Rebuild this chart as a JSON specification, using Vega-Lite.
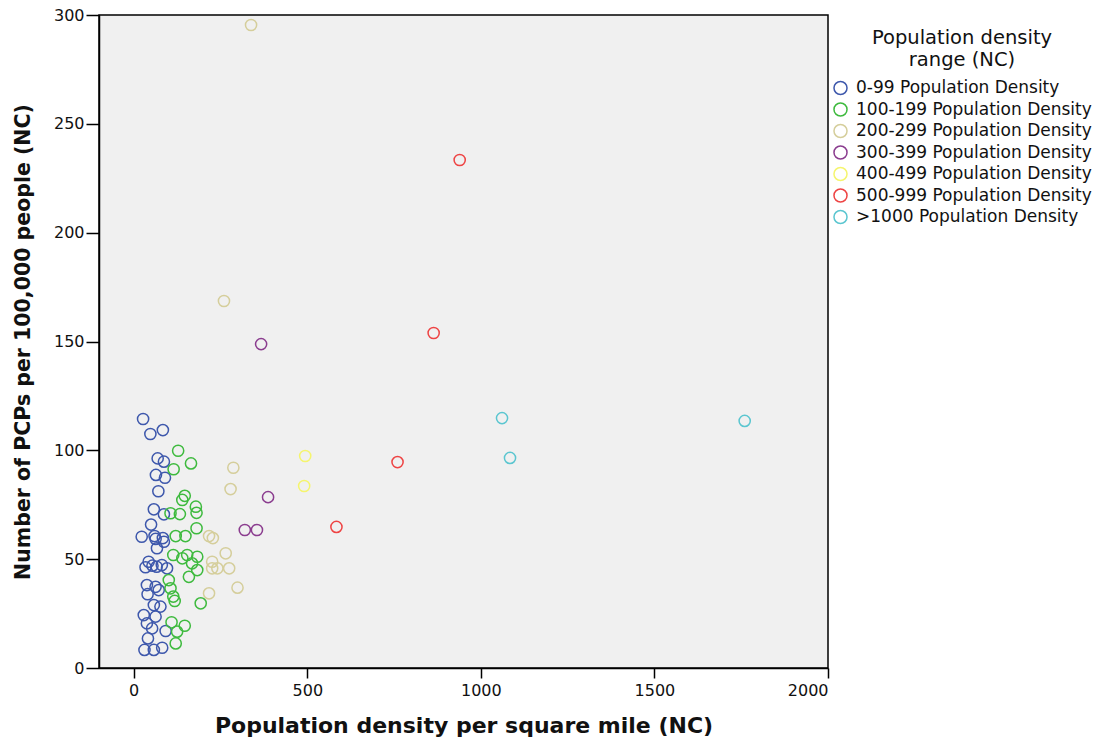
{
  "$schema": "https://vega.github.io/schema/vega-lite/v6.json",
  "autosize": {"type": "none"},
  "padding": {"left": 99, "top": 15, "right": 270, "bottom": 74},
  "width": 729,
  "height": 653,
  "background": "white",
  "config": {
    "font": "DejaVu Sans",
    "view": {"fill": "#F0F0F0", "stroke": "#000000", "strokeWidth": 1.5},
    "axis": {
      "labelFontSize": 16,
      "labelColor": "#111111",
      "titleFontWeight": "bold",
      "titleColor": "#111111",
      "domainColor": "#000000",
      "domainWidth": 1.5,
      "tickColor": "#000000",
      "tickWidth": 1.5,
      "grid": false,
      "format": "d"
    }
  },
  "data": {
    "values": [
      {"density": 27, "pcp": 114.4, "range": "0-99 Population Density"},
      {"density": 48, "pcp": 107.5, "range": "0-99 Population Density"},
      {"density": 84, "pcp": 109.3, "range": "0-99 Population Density"},
      {"density": 69, "pcp": 96.3, "range": "0-99 Population Density"},
      {"density": 87, "pcp": 94.8, "range": "0-99 Population Density"},
      {"density": 64, "pcp": 88.7, "range": "0-99 Population Density"},
      {"density": 90, "pcp": 87.4, "range": "0-99 Population Density"},
      {"density": 71, "pcp": 81.2, "range": "0-99 Population Density"},
      {"density": 58, "pcp": 72.9, "range": "0-99 Population Density"},
      {"density": 87, "pcp": 70.6, "range": "0-99 Population Density"},
      {"density": 50, "pcp": 65.9, "range": "0-99 Population Density"},
      {"density": 23, "pcp": 60.3, "range": "0-99 Population Density"},
      {"density": 60, "pcp": 60.6, "range": "0-99 Population Density"},
      {"density": 84, "pcp": 59.7, "range": "0-99 Population Density"},
      {"density": 63, "pcp": 59.3, "range": "0-99 Population Density"},
      {"density": 87, "pcp": 58.0, "range": "0-99 Population Density"},
      {"density": 67, "pcp": 55.0, "range": "0-99 Population Density"},
      {"density": 43, "pcp": 48.8, "range": "0-99 Population Density"},
      {"density": 66, "pcp": 46.5, "range": "0-99 Population Density"},
      {"density": 34, "pcp": 46.3, "range": "0-99 Population Density"},
      {"density": 96, "pcp": 45.8, "range": "0-99 Population Density"},
      {"density": 81, "pcp": 47.3, "range": "0-99 Population Density"},
      {"density": 54, "pcp": 47.0, "range": "0-99 Population Density"},
      {"density": 38, "pcp": 38.1, "range": "0-99 Population Density"},
      {"density": 63, "pcp": 37.3, "range": "0-99 Population Density"},
      {"density": 40, "pcp": 33.9, "range": "0-99 Population Density"},
      {"density": 72, "pcp": 35.8, "range": "0-99 Population Density"},
      {"density": 58, "pcp": 28.9, "range": "0-99 Population Density"},
      {"density": 77, "pcp": 28.2, "range": "0-99 Population Density"},
      {"density": 29, "pcp": 24.3, "range": "0-99 Population Density"},
      {"density": 63, "pcp": 23.6, "range": "0-99 Population Density"},
      {"density": 38, "pcp": 20.5, "range": "0-99 Population Density"},
      {"density": 53, "pcp": 18.2, "range": "0-99 Population Density"},
      {"density": 92, "pcp": 17.0, "range": "0-99 Population Density"},
      {"density": 41, "pcp": 13.6, "range": "0-99 Population Density"},
      {"density": 31, "pcp": 8.3, "range": "0-99 Population Density"},
      {"density": 58, "pcp": 8.3, "range": "0-99 Population Density"},
      {"density": 82, "pcp": 9.3, "range": "0-99 Population Density"},
      {"density": 128, "pcp": 99.8, "range": "100-199 Population Density"},
      {"density": 165, "pcp": 94.0, "range": "100-199 Population Density"},
      {"density": 115, "pcp": 91.3, "range": "100-199 Population Density"},
      {"density": 147, "pcp": 79.1, "range": "100-199 Population Density"},
      {"density": 140, "pcp": 77.2, "range": "100-199 Population Density"},
      {"density": 179, "pcp": 74.1, "range": "100-199 Population Density"},
      {"density": 181, "pcp": 71.3, "range": "100-199 Population Density"},
      {"density": 106, "pcp": 71.1, "range": "100-199 Population Density"},
      {"density": 133, "pcp": 70.7, "range": "100-199 Population Density"},
      {"density": 181, "pcp": 64.2, "range": "100-199 Population Density"},
      {"density": 121, "pcp": 60.6, "range": "100-199 Population Density"},
      {"density": 149, "pcp": 60.6, "range": "100-199 Population Density"},
      {"density": 114, "pcp": 51.9, "range": "100-199 Population Density"},
      {"density": 140, "pcp": 50.4, "range": "100-199 Population Density"},
      {"density": 154, "pcp": 51.9, "range": "100-199 Population Density"},
      {"density": 183, "pcp": 51.1, "range": "100-199 Population Density"},
      {"density": 168, "pcp": 48.1, "range": "100-199 Population Density"},
      {"density": 183, "pcp": 45.0, "range": "100-199 Population Density"},
      {"density": 159, "pcp": 41.9, "range": "100-199 Population Density"},
      {"density": 101, "pcp": 40.4, "range": "100-199 Population Density"},
      {"density": 106, "pcp": 36.6, "range": "100-199 Population Density"},
      {"density": 114, "pcp": 32.8, "range": "100-199 Population Density"},
      {"density": 118, "pcp": 30.8, "range": "100-199 Population Density"},
      {"density": 193, "pcp": 29.7, "range": "100-199 Population Density"},
      {"density": 109, "pcp": 21.0, "range": "100-199 Population Density"},
      {"density": 147, "pcp": 19.4, "range": "100-199 Population Density"},
      {"density": 125, "pcp": 16.7, "range": "100-199 Population Density"},
      {"density": 121, "pcp": 11.3, "range": "100-199 Population Density"},
      {"density": 338, "pcp": 295.4, "range": "200-299 Population Density"},
      {"density": 260, "pcp": 168.6, "range": "200-299 Population Density"},
      {"density": 287, "pcp": 92.0, "range": "200-299 Population Density"},
      {"density": 279, "pcp": 82.2, "range": "200-299 Population Density"},
      {"density": 217, "pcp": 60.6, "range": "200-299 Population Density"},
      {"density": 228, "pcp": 59.7, "range": "200-299 Population Density"},
      {"density": 265, "pcp": 52.7, "range": "200-299 Population Density"},
      {"density": 226, "pcp": 48.8, "range": "200-299 Population Density"},
      {"density": 226, "pcp": 45.8, "range": "200-299 Population Density"},
      {"density": 241, "pcp": 45.8, "range": "200-299 Population Density"},
      {"density": 275, "pcp": 45.8, "range": "200-299 Population Density"},
      {"density": 217, "pcp": 34.3, "range": "200-299 Population Density"},
      {"density": 299, "pcp": 36.9, "range": "200-299 Population Density"},
      {"density": 367, "pcp": 148.8, "range": "300-399 Population Density"},
      {"density": 387, "pcp": 78.5, "range": "300-399 Population Density"},
      {"density": 320, "pcp": 63.4, "range": "300-399 Population Density"},
      {"density": 355, "pcp": 63.4, "range": "300-399 Population Density"},
      {"density": 494, "pcp": 97.4, "range": "400-499 Population Density"},
      {"density": 491, "pcp": 83.6, "range": "400-499 Population Density"},
      {"density": 939, "pcp": 233.4, "range": "500-999 Population Density"},
      {"density": 864, "pcp": 153.9, "range": "500-999 Population Density"},
      {"density": 760, "pcp": 94.6, "range": "500-999 Population Density"},
      {"density": 584, "pcp": 64.8, "range": "500-999 Population Density"},
      {"density": 1061, "pcp": 114.8, "range": ">1000 Population Density"},
      {"density": 1084, "pcp": 96.5, "range": ">1000 Population Density"},
      {"density": 1760, "pcp": 113.5, "range": ">1000 Population Density"}
    ]
  },
  "mark": {"type": "point", "shape": "circle", "filled": false, "size": 125, "strokeWidth": 1.5, "opacity": 1},
  "encoding": {
    "x": {
      "field": "density",
      "type": "quantitative",
      "scale": {"domain": [-100, 2000], "nice": false, "zero": false},
      "axis": {
        "title": "Population density per square mile (NC)",
        "titleFontSize": 22,
        "values": [0, 500, 1000, 1500, 2000],
        "tickSize": 10,
        "labelPadding": 4,
        "titlePadding": 17
      }
    },
    "y": {
      "field": "pcp",
      "type": "quantitative",
      "scale": {"domain": [0, 300], "nice": false},
      "axis": {
        "title": "Number of PCPs per 100,000 people (NC)",
        "titleFontSize": 20.5,
        "values": [0, 50, 100, 150, 200, 250, 300],
        "tickSize": 13,
        "labelPadding": 2,
        "titlePadding": 20
      }
    },
    "color": {
      "field": "range",
      "type": "nominal",
      "title": ["Population density", "range (NC)"],
      "sort": [
        "0-99 Population Density",
        "100-199 Population Density",
        "200-299 Population Density",
        "300-399 Population Density",
        "400-499 Population Density",
        "500-999 Population Density",
        ">1000 Population Density"
      ],
      "scale": {
        "range": ["#3E58AC", "#3EBA3E", "#D5CE9B", "#8B3D8F", "#F5F56E", "#EE4444", "#5BC6D0"]
      },
      "legend": {
        "orient": "none",
        "legendX": 733,
        "legendY": 14,
        "titleFontSize": 19.5,
        "titleFontWeight": "normal",
        "titleColor": "#111111",
        "titleLineHeight": 22,
        "titleAnchor": "middle",
        "titleAlign": "center",
        "titlePadding": 9,
        "titleLimit": 400,
        "labelFontSize": 17,
        "labelLimit": 400,
        "labelColor": "#111111",
        "symbolType": "circle",
        "symbolSize": 170,
        "symbolStrokeWidth": 1.5,
        "symbolFillColor": "transparent",
        "rowPadding": 0.5,
        "labelOffset": 7
      }
    }
  }
}
